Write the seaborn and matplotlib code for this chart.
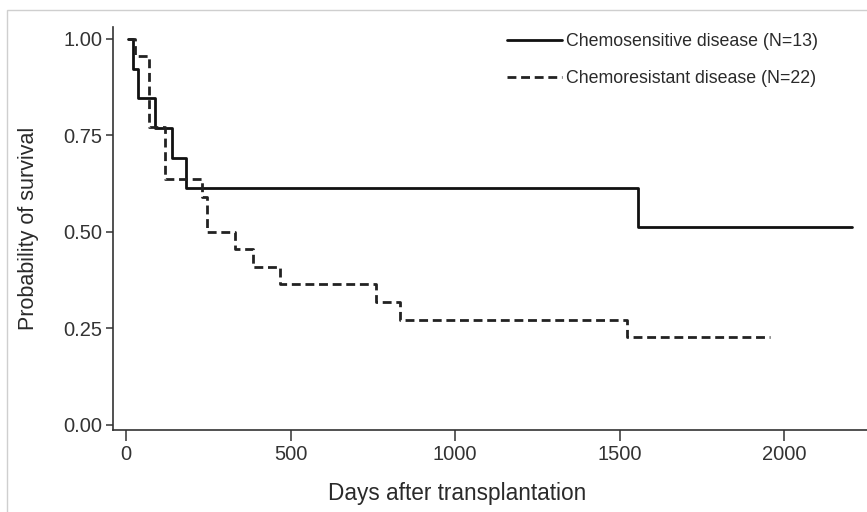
import matplotlib
matplotlib.use("Agg")
import matplotlib.pyplot as plt
import seaborn as sns
import pandas as pd
from matplotlib.patches import Rectangle

# Kaplan-Meier step data
sens_label = "Chemosensitive disease (N=13)"
res_label = "Chemoresistant disease (N=22)"

sens_days = [7, 22, 37, 88, 139, 182, 1557, 2206]
sens_surv = [1.0, 0.923, 0.846, 0.769, 0.692, 0.615, 0.513, 0.513]

res_days = [7, 27, 69, 118, 230, 246, 331, 387, 468, 760, 833, 1522, 1957]
res_surv = [1.0, 0.955, 0.773, 0.636, 0.591, 0.500, 0.455, 0.409, 0.364,
            0.318, 0.273, 0.227, 0.227]

x_ticks = [0, 500, 1000, 1500, 2000]
y_ticks = [0.00, 0.25, 0.50, 0.75, 1.00]
y_tick_labels = ["0.00", "0.25", "0.50", "0.75", "1.00"]

df = pd.concat([
    pd.DataFrame({"days": sens_days, "surv": sens_surv, "group": sens_label}),
    pd.DataFrame({"days": res_days, "surv": res_surv, "group": res_label}),
], ignore_index=True)

sns.set_theme(style="ticks")
plt.rcParams["font.family"] = ["Liberation Sans", "DejaVu Sans"]

fig = plt.figure(figsize=(8.67, 5.12), dpi=100)
ax = fig.add_axes([113.3 / 867, 82 / 512, 1 - 113.3 / 867, (430 - 27) / 512])

sns.lineplot(data=df, x="days", y="surv", hue="group", style="group",
             palette={sens_label: "#111111", res_label: "#222222"},
             dashes={sens_label: "", res_label: (3.2, 1.7)},
             estimator=None, sort=False, drawstyle="steps-post",
             linewidth=2.0, ax=ax)

ax.set_xlim(-38.6, 2252)
ax.set_ylim(-0.013, 1.031)
ax.set_xticks(x_ticks)
ax.set_yticks(y_ticks)
ax.set_yticklabels(y_tick_labels)
for s in ["top", "right"]:
    ax.spines[s].set_visible(False)
for s in ["left", "bottom"]:
    ax.spines[s].set_color("#333333")
    ax.spines[s].set_linewidth(1.2)
ax.tick_params(axis="both", labelsize=14.5, colors="#333333", length=5, width=1.1, pad=3)
ax.tick_params(axis="x", length=8)

ax.set_xlabel("Days after transplantation", fontsize=16.3, color="#2a2a2a")
ax.set_ylabel("Probability of survival", fontsize=15.5, color="#2a2a2a")
ax.xaxis.set_label_coords(0.456, -0.13)
ax.yaxis.set_label_coords(-0.099, 0.5)

leg = ax.legend(loc="center", bbox_to_anchor=(662.5 / 867, 1 - 60 / 512),
                bbox_transform=fig.transFigure, frameon=False, borderpad=0,
                fontsize=12.8, handlelength=3.1, handletextpad=0.2,
                labelspacing=1.15)
for t in leg.get_texts():
    t.set_color("#2a2a2a")

fig.patches.append(Rectangle((7 / 867, -0.1), 1.2, (512 - 10) / 512 + 0.1,
                             transform=fig.transFigure, fill=False,
                             edgecolor="#cfcfcf", linewidth=1.0))

fig.savefig("out.png", dpi=100)
